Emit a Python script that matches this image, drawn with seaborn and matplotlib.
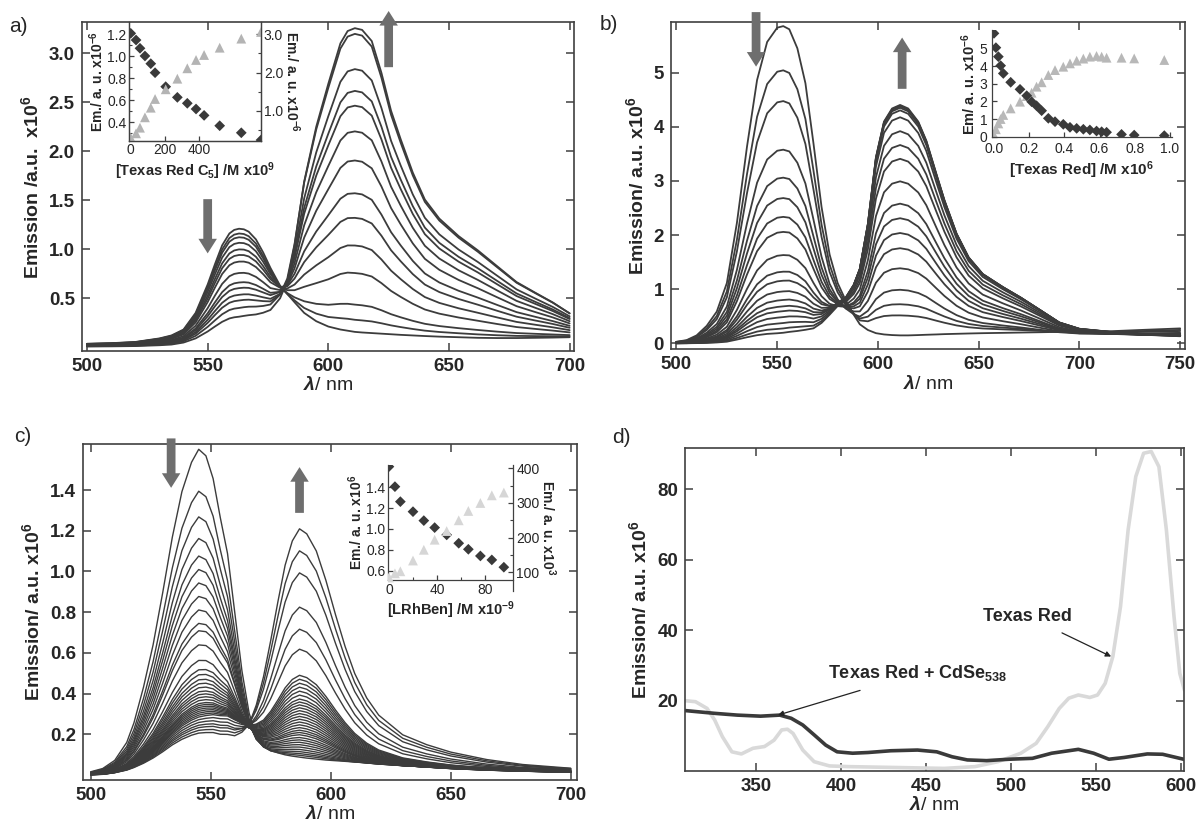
import numpy as np
import pandas as pd
import matplotlib
matplotlib.use("Agg")
import matplotlib.pyplot as plt
import seaborn as sns

sns.set_style("ticks")
plt.rcParams['font.family'] = ['Liberation Sans', 'DejaVu Sans']
plt.rcParams['mathtext.fontset'] = 'custom'
plt.rcParams['mathtext.rm'] = 'Liberation Sans:bold'
plt.rcParams['mathtext.bf'] = 'Liberation Sans:bold'
plt.rcParams['mathtext.it'] = 'Liberation Sans:italic:bold'

LINE = '#3c3c3c'
ARROW = '#6e6e6e'

# ---------------- panel a : spectra (normalised donor / acceptor shapes)
wl_a = [500, 510, 520, 530, 535, 540, 545, 550, 553, 556, 559, 561, 563, 565, 567, 570, 573, 576,
        580, 583, 586, 590, 595, 600, 605, 608, 611, 614, 618, 622, 626, 630, 635, 640, 646, 654,
        662, 670, 678, 686, 693, 700]
donor_a = [0.03, 0.035, 0.045, 0.075, 0.1, 0.15, 0.29, 0.53, 0.70, 0.86, 0.96, 0.99, 1.0, 0.995, 0.975,
           0.91, 0.80, 0.67, 0.52, 0.45, 0.38, 0.29, 0.22, 0.175, 0.15, 0.14, 0.13, 0.125, 0.12, 0.115,
           0.11, 0.105, 0.1, 0.095, 0.09, 0.085, 0.08, 0.078, 0.078, 0.08, 0.082, 0.085]
accept_a = [0, 0, 0, 0, 0, 0.002, 0.003, 0.004, 0.005, 0.006, 0.008, 0.009, 0.01, 0.013, 0.017, 0.025,
            0.04, 0.06, 0.11, 0.17, 0.29, 0.5, 0.68, 0.82, 0.95, 0.99, 1.0, 0.995, 0.96, 0.86, 0.74,
            0.65, 0.545, 0.46, 0.40, 0.345, 0.30, 0.25, 0.20, 0.165, 0.135, 0.10]
donor_amp_a = [1.21, 1.16, 1.12, 1.06, 0.99, 0.93, 0.86, 0.74, 0.64, 0.58, 0.51, 0.45, 0.37, 0.28]
accept_amp_a = [0, 0.13, 0.29, 0.62, 0.91, 1.2, 1.46, 1.81, 2.12, 2.39, 2.55, 2.78, 3.15, 3.22]

# inset a
ins_x_a = [0, 31, 54, 83, 117, 142, 204, 272, 330, 381, 428, 519, 645, 760]
ins_don_a = [1.209, 1.148, 1.073, 1.003, 0.933, 0.851, 0.724, 0.627, 0.573, 0.521, 0.463, 0.369, 0.305, 0.239]
ins_acc_a = [0.304, 0.418, 0.565, 0.835, 1.086, 1.313, 1.566, 1.842, 2.113, 2.33, 2.46, 2.65, 2.886, 3.06]

# ---------------- panel b
wl_b = [500, 505, 510, 515, 520, 525, 530, 535, 540, 545, 550, 553, 556, 560, 564, 568, 572, 576, 580,
        584, 588, 591, 595, 599, 603, 607, 611, 615, 620, 624, 629, 633, 639, 645, 652, 662, 671, 681,
        690, 700, 715, 730, 750]
donor_b = [0.005, 0.01, 0.025, 0.055, 0.1, 0.19, 0.38, 0.62, 0.83, 0.95, 0.995, 1.0, 0.99, 0.93, 0.82,
           0.63, 0.43, 0.28, 0.19, 0.135, 0.09, 0.06, 0.042, 0.032, 0.028, 0.026, 0.025, 0.025, 0.026,
           0.027, 0.028, 0.029, 0.03, 0.031, 0.032, 0.033, 0.034, 0.035, 0.036, 0.036, 0.038, 0.042, 0.047]
accept_b = [0, 0, 0, 0, 0, 0, 0.002, 0.003, 0.004, 0.005, 0.006, 0.008, 0.012, 0.018, 0.027, 0.04,
            0.07, 0.11, 0.15, 0.18, 0.24, 0.31, 0.5, 0.78, 0.93, 0.985, 1.0, 0.985, 0.93, 0.85, 0.71,
            0.60, 0.46, 0.36, 0.29, 0.235, 0.19, 0.135, 0.085, 0.058, 0.045, 0.035, 0.028]
donor_amp_b = [5.86, 5.04, 4.47, 3.57, 3.05, 2.67, 2.32, 2.04, 1.61, 1.30, 1.13, 0.93, 0.77, 0.65,
               0.56, 0.45, 0.34, 0.24, 0.16]
accept_amp_b = [0, 0.39, 0.61, 0.9, 1.31, 1.69, 1.98, 2.26, 2.54, 2.96, 3.38, 3.64, 3.90, 4.16,
                4.29, 4.34, 4.37, 4.38, 4.40]

ins_x_b = [0, 0.011, 0.025, 0.038, 0.053, 0.095, 0.148, 0.186, 0.214, 0.242, 0.271, 0.309, 0.347,
           0.394, 0.432, 0.47, 0.508, 0.545, 0.583, 0.612, 0.64, 0.725, 0.797, 0.968]
ins_don_b = [5.85, 5.04, 4.53, 4.02, 3.58, 3.08, 2.68, 2.32, 1.98, 1.75, 1.47, 1.04, 0.85, 0.70,
             0.53, 0.47, 0.42, 0.38, 0.32, 0.28, 0.25, 0.13, 0.09, 0.06]
ins_acc_b = [0.09, 0.42, 0.75, 1.0, 1.23, 1.6, 1.98, 2.3, 2.49, 2.83, 3.08, 3.49, 3.77, 3.96, 4.15,
             4.3, 4.42, 4.53, 4.57, 4.53, 4.47, 4.47, 4.43, 4.34]

# ---------------- panel c (donor, acceptor and a broad shoulder band)
wl_c = [500, 505, 510, 515, 518, 522, 526, 530, 534, 538, 542, 545, 548, 551, 554, 557, 560, 563, 566,
        569, 572, 575, 578, 581, 584, 587, 590, 594, 598, 602, 606, 610, 615, 620, 630, 640, 650, 665,
        680, 700]
donor_c = [0.01, 0.02, 0.045, 0.1, 0.16, 0.27, 0.40, 0.56, 0.73, 0.87, 0.96, 1.0, 0.98, 0.91, 0.79,
           0.68, 0.50, 0.32, 0.19, 0.12, 0.09, 0.075, 0.068, 0.062, 0.058, 0.055, 0.052, 0.049, 0.046,
           0.044, 0.042, 0.04, 0.038, 0.036, 0.033, 0.03, 0.027, 0.024, 0.022, 0.02]
accept_c = [0, 0, 0.003, 0.006, 0.008, 0.01, 0.013, 0.016, 0.02, 0.023, 0.027, 0.03, 0.035, 0.045,
            0.055, 0.07, 0.09, 0.13, 0.18, 0.27, 0.39, 0.54, 0.7, 0.85, 0.95, 1.0, 0.98, 0.91, 0.79,
            0.65, 0.52, 0.41, 0.31, 0.24, 0.16, 0.12, 0.09, 0.06, 0.04, 0.025]
band_c = [0, 0, 0.02, 0.04, 0.06, 0.09, 0.12, 0.16, 0.2, 0.25, 0.3, 0.34, 0.42, 0.55, 0.7, 0.84, 0.95,
          1.0, 0.95, 0.8, 0.55, 0.35, 0.2, 0.12, 0.08, 0.06, 0.05, 0.04, 0.035, 0.03, 0.025, 0.02,
          0.018, 0.015, 0.012, 0.01, 0.008, 0.006, 0.004, 0.002]
donor_amp_c = [1.6, 1.39, 1.26, 1.15, 1.06, 0.99, 0.92, 0.85, 0.78, 0.71, 0.67, 0.60, 0.52, 0.47,
               0.445, 0.42, 0.40, 0.38, 0.36, 0.345, 0.33, 0.315, 0.30, 0.29, 0.28, 0.27, 0.26, 0.25,
               0.24, 0.23, 0.22, 0.21, 0.2, 0.19, 0.18, 0.17]
accept_amp_c = [0.0, 0.02, 0.035, 0.05, 0.065, 0.08, 0.095, 0.11, 0.125, 0.14, 0.155, 0.17, 0.185, 0.2,
                0.215, 0.23, 0.245, 0.26, 0.275, 0.29, 0.305, 0.32, 0.335, 0.35, 0.37, 0.39, 0.41,
                0.43, 0.45, 0.47, 0.6, 0.7, 0.81, 0.98, 1.09, 1.2]
band_amp_c = [0, 0.01, 0.02, 0.03, 0.04, 0.05, 0.06, 0.07, 0.08, 0.09, 0.10, 0.10, 0.11, 0.12, 0.12,
              0.12, 0.12, 0.12, 0.12, 0.12, 0.12, 0.12, 0.12, 0.12, 0.12, 0.12, 0.12, 0.12, 0.12, 0.12,
              0.1, 0.08, 0.06, 0.04, 0.02, 0.0]

ins_x_c = [0, 5, 9.5, 20, 29, 38, 48, 58, 66, 76, 85.5, 95.5]
ins_don_c = [1.598, 1.406, 1.262, 1.166, 1.080, 1.013, 0.943, 0.863, 0.805, 0.741, 0.703, 0.633]
ins_acc_c = [85, 97, 103, 134, 165, 194, 219, 250, 277, 300, 322, 330]

# ---------------- panel d
wl_d_mix = [308, 325.7, 339, 352.7, 364, 370.7, 377.5, 384.2, 391, 397.7, 406.8, 415.8, 429.3, 445,
            456.3, 465.3, 474.3, 485.6, 499, 512.6, 523.9, 539.6, 548.6, 557.6, 566.6, 580.2, 589.2, 601.5]
em_d_mix = [17.3, 16.5, 16.0, 15.7, 16.0, 15.1, 13.2, 10.4, 7.5, 5.6, 5.2, 5.4, 5.9, 6.1, 5.6, 4.2,
            3.3, 3.1, 3.5, 3.75, 5.2, 6.3, 5.2, 3.5, 4.0, 5.0, 4.9, 3.5]
wl_d_tr = [308.2, 314.4, 321.2, 325.7, 330.2, 335.8, 341.4, 348.2, 355, 360.6, 365.1, 368.5, 371.8,
           377.5, 384.2, 393.2, 404.5, 427, 460.8, 478.8, 492.3, 505.8, 514.8, 521.6, 528.4, 534,
           539.6, 546.4, 550.9, 555.4, 559.9, 564.4, 568.9, 573.4, 578, 582.5, 587, 591.4, 595.9,
           599.3, 602]
em_d_tr = [20.1, 19.8, 17.9, 14.6, 9.9, 5.6, 5.0, 6.6, 7.1, 8.9, 11.8, 12.0, 10.8, 6.1, 2.8, 1.6, 1.4,
           1.2, 0.9, 1.4, 2.8, 5.2, 8.0, 12.7, 17.9, 20.8, 21.7, 21.0, 21.7, 25.0, 32.6, 46.7, 68.5,
           83.6, 90.2, 90.7, 86.4, 68.5, 43.9, 27.8, 23.1]


def spectra_frame(wl, shapes, amps):
    parts = []
    for k, coefs in enumerate(zip(*amps)):
        em = sum(c * np.asarray(s) for c, s in zip(coefs, shapes))
        parts.append(pd.DataFrame({'wl': wl, 'em': em, 'curve': k}))
    return pd.concat(parts, ignore_index=True)


def style_main(ax, xlim, ylim, xticks, yticks, ytlabels, ylabel):
    ax.set_xlim(*xlim)
    ax.set_ylim(*ylim)
    ax.set_xticks(xticks)
    ax.set_xticklabels([str(t) for t in xticks], fontweight='bold')
    ax.set_yticks(yticks)
    ax.set_yticklabels(ytlabels, fontweight='bold')
    ax.tick_params(direction='in', top=True, right=True, length=6, width=1.1,
                   labelsize=13.5, pad=5, color='#404040')
    for s in ax.spines.values():
        s.set_linewidth(1.2)
        s.set_color('#404040')
    ax.set_xlabel(r'$\lambda$/ nm', fontsize=14, labelpad=1)
    ax.set_ylabel(ylabel, fontsize=14, fontweight='bold', labelpad=5)


def style_inset(ax):
    ax.patch.set_alpha(0)
    ax.tick_params(direction='in', length=3.5, width=0.9, labelsize=10, pad=2, color='#404040')
    ax.tick_params(which='minor', direction='in', length=2, width=0.8, color='#404040')
    for s in ax.spines.values():
        s.set_linewidth(0.9)
        s.set_color('#404040')


def arrow(ax, tail, head):
    ax.annotate('', xy=head, xytext=tail, annotation_clip=False,
                arrowprops=dict(arrowstyle='simple,head_width=0.95,head_length=0.75,tail_width=0.45',
                                mutation_scale=14, color=ARROW, lw=0))


fig = plt.figure(figsize=(12, 8.33), dpi=100)

# ---------- a
ax_a = fig.add_axes([0.0681, 0.5786, 0.4102, 0.3946])
sns.lineplot(data=spectra_frame(wl_a, [donor_a, accept_a], [donor_amp_a, accept_amp_a]), x='wl', y='em',
             units='curve', estimator=None, color=LINE, linewidth=1.3, ax=ax_a, legend=False)
style_main(ax_a, (497.8, 701.8), (-0.038, 3.316), [500, 550, 600, 650, 700],
           [0.5, 1.0, 1.5, 2.0, 2.5, 3.0], ['0.5', '1.0', '1.5', '2.0', '2.5', '3.0'],
           r'Emission /a.u.  x10$^6$')
arrow(ax_a, (550, 1.54), (550, 0.93))
arrow(ax_a, (625, 2.83), (625, 3.46))

ia = fig.add_axes([0.1078, 0.8311, 0.1097, 0.1425])
sns.scatterplot(x=ins_x_a, y=ins_don_a, marker='D', s=30, color='#3a3a3a', edgecolor='none', ax=ia)
ia.set_xlim(-8, 760)
ia.set_ylim(0.233, 1.312)
ia.set_xticks([0, 200, 400])
ia.set_yticks([0.4, 0.6, 0.8, 1.0, 1.2])
ia.set_yticklabels(['0.4', '0.6', '0.8', '1.0', '1.2'])
ia.set_yticks([0.3, 0.5, 0.7, 0.9, 1.1], minor=True)
ia.set_xlabel(r'[Texas Red C$_5$] /M x10$^9$', fontsize=10.5, fontweight='bold', labelpad=2)
ia.set_ylabel(r'Em./ a. u. x10$^{-6}$', fontsize=10, fontweight='bold', labelpad=1)
style_inset(ia)
ia.spines['top'].set_visible(False)
ia2 = ia.twinx()
sns.scatterplot(x=ins_x_a, y=ins_acc_a, marker='^', s=50, color='#b4b4b4', edgecolor='none', ax=ia2)
ia2.set_ylim(0.226, 3.32)
ia2.set_yticks([1.0, 2.0, 3.0])
ia2.set_yticklabels(['1.0', '2.0', '3.0'])
ia2.set_yticks([0.5, 1.5, 2.5], minor=True)
ia2.set_ylabel(r'Em./ a. u. x10$^{-6}$', fontsize=10, fontweight='bold', rotation=270, labelpad=13)
style_inset(ia2)
ia2.spines['top'].set_visible(False)

# ---------- b
ax_b = fig.add_axes([0.5592, 0.5807, 0.4283, 0.3925])
sns.lineplot(data=spectra_frame(wl_b, [donor_b, accept_b], [donor_amp_b, accept_amp_b]), x='wl', y='em',
             units='curve', estimator=None, color=LINE, linewidth=1.3, ax=ax_b, legend=False)
style_main(ax_b, (497.3, 752.4), (-0.11, 5.93), [500, 550, 600, 650, 700, 750],
           [0, 1, 2, 3, 4, 5], ['0', '1', '2', '3', '4', '5'], r'Emission/ a.u. x10$^6$')
arrow(ax_b, (539.5, 6.17), (539.5, 5.06))
arrow(ax_b, (612, 4.65), (612, 5.70))

ib = fig.add_axes([0.8264, 0.8352, 0.15, 0.1288])
sns.scatterplot(x=ins_x_b, y=ins_acc_b, marker='^', s=50, color='#b8b8b8', edgecolor='none', ax=ib)
sns.scatterplot(x=ins_x_b, y=ins_don_b, marker='D', s=30, color='#3a3a3a', edgecolor='none', ax=ib)
ib.set_xlim(-0.013, 1.01)
ib.set_ylim(-0.034, 6.04)
ib.set_xticks([0.0, 0.2, 0.4, 0.6, 0.8, 1.0])
ib.set_xticklabels(['0.0', '0.2', '0.4', '0.6', '0.8', '1.0'])
ib.set_yticks([0, 1, 2, 3, 4, 5])
ib.set_xlabel(r'[Texas Red] /M x10$^6$', fontsize=11, fontweight='bold', labelpad=2)
ib.set_ylabel(r'Em/ a. u. x10$^{-6}$', fontsize=10.5, fontweight='bold', labelpad=1)
style_inset(ib)
ib.tick_params(axis='x', pad=3.5)
ib.tick_params(axis='y', pad=3)
ib.spines['top'].set_visible(False)
ib.spines['right'].set_visible(False)

# ---------- c
ax_c = fig.add_axes([0.0694, 0.0636, 0.4112, 0.4034])
sns.lineplot(data=spectra_frame(wl_c, [donor_c, accept_c, band_c],
                                [donor_amp_c, accept_amp_c, band_amp_c]), x='wl', y='em',
             units='curve', estimator=None, color=LINE, linewidth=1.0, ax=ax_c, legend=False)
style_main(ax_c, (496.9, 702.5), (-0.0245, 1.626), [500, 550, 600, 650, 700],
           [0.2, 0.4, 0.6, 0.8, 1.0, 1.2, 1.4], ['0.2', '0.4', '0.6', '0.8', '1.0', '1.2', '1.4'],
           r'Emission/ a.u. x10$^6$')
arrow(ax_c, (533.5, 1.667), (533.5, 1.397))
arrow(ax_c, (587, 1.274), (587, 1.526))

ic = fig.add_axes([0.3236, 0.3037, 0.1042, 0.1381])
sns.scatterplot(x=ins_x_c, y=ins_don_c, marker='D', s=30, color='#3a3a3a', edgecolor='none', ax=ic)
ic.set_xlim(-0.5, 103.4)
ic.set_ylim(0.51, 1.614)
ic.set_xticks([0, 40, 80])
ic.set_xticks([20, 60], minor=True)
ic.set_yticks([0.6, 0.8, 1.0, 1.2, 1.4])
ic.set_yticklabels(['0.6', '0.8', '1.0', '1.2', '1.4'])
ic.set_xlabel(r'[LRhBen] /M x10$^{-9}$', fontsize=10.5, fontweight='bold', labelpad=2)
ic.set_ylabel(r'Em./ a. u. x10$^6$', fontsize=10, fontweight='bold', labelpad=1)
style_inset(ic)
ic.spines['top'].set_visible(False)
ic.spines['right'].set_visible(False)
ic2 = fig.add_axes([0.3236, 0.2909, 0.1042, 0.1509])
sns.scatterplot(x=ins_x_c, y=ins_acc_c, marker='^', s=50, color='#d6d6d6', edgecolor='none', ax=ic2)
ic2.set_xlim(-0.5, 103.4)
ic2.set_ylim(47, 409.6)
ic2.set_xticks([])
ic2.yaxis.tick_right()
ic2.yaxis.set_label_position('right')
ic2.set_yticks([100, 200, 300, 400])
ic2.set_yticks([150, 250, 350], minor=True)
ic2.set_xlabel('')
ic2.set_ylabel(r'Em./ a. u. x10$^3$', fontsize=10, fontweight='bold', rotation=270, labelpad=13)
style_inset(ic2)
for side in ['left', 'top', 'bottom']:
    ic2.spines[side].set_visible(False)

# ---------- d
ax_d = fig.add_axes([0.5708, 0.0748, 0.4162, 0.387])
sns.lineplot(x=wl_d_tr, y=em_d_tr, color='#d9d9d9', linewidth=2.6, ax=ax_d)
sns.lineplot(x=wl_d_mix, y=em_d_mix, color='#3a3a3a', linewidth=2.6, ax=ax_d)
style_main(ax_d, (308.2, 602), (0.25, 91.6), [350, 400, 450, 500, 550, 600],
           [20, 40, 60, 80], ['20', '40', '60', '80'], r'Emission/ a.u. x10$^6$')
ax_d.annotate('Texas Red', xy=(558.9, 32.6), xytext=(509.7, 44.0), ha='center', va='center',
              fontsize=13, fontweight='bold',
              arrowprops=dict(arrowstyle='-|>', color='#222222', lw=0.9, shrinkA=8, shrinkB=0,
                              mutation_scale=8))
ax_d.annotate(r'Texas Red + CdSe$_{538}$', xy=(362.9, 16.0), xytext=(445, 27.9), ha='center',
              va='center', fontsize=13, fontweight='bold',
              arrowprops=dict(arrowstyle='-|>', color='#222222', lw=0.9, shrinkA=10, shrinkB=0,
                              mutation_scale=8))

# panel letters
for lab, x, y in [('a)', 0.008, 0.968), ('b)', 0.500, 0.971), ('c)', 0.012, 0.476), ('d)', 0.510, 0.475)]:
    fig.text(x, y, lab, fontsize=15, ha='left', va='center')

fig.savefig('out.png', dpi=100)
